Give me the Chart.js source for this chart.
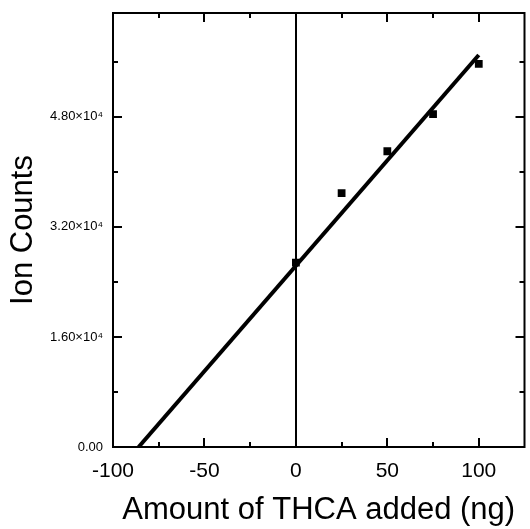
<!DOCTYPE html>
<html>
<head>
<meta charset="utf-8">
<script src="https://cdn.jsdelivr.net/npm/chart.js@4.4.1/dist/chart.umd.min.js"></script>
<style>
  html, body { margin: 0; padding: 0; background: #fff; }
  #wrap { width: 530px; height: 529px; }
</style>
</head>
<body>
<div id="wrap"><canvas id="grafico"></canvas></div>
<script>
// dados
const amounts = [0, 25, 50, 75, 100];
const ionCounts = [26800, 36900, 43000, 48400, 55700];
const fitX = [-86, 100];
const fitY = [0, 57000];

const xTickValues = [-100, -50, 0, 50, 100];
const xTickLabels = ["-100", "-50", "0", "50", "100"];
const xMinorTicks = [-75, -25, 25, 75];
const yTickValues = [0, 16000, 32000, 48000];
const yTickLabels = ["0.00", "1.60×10⁴", "3.20×10⁴", "4.80×10⁴"];
const yMinorTicks = [8000, 24000, 40000, 56000];

// moldura + ticks para dentro nos 4 lados
const molduraPlugin = {
  id: "moldura",
  afterDraw(chart) {
    const { ctx, chartArea: a, scales } = chart;
    ctx.save();
    ctx.strokeStyle = "#000";
    ctx.lineWidth = 2;
    ctx.strokeRect(a.left, a.top, a.right - a.left, a.bottom - a.top);
    scales.x.ticks.forEach(t => {
      if (t.value <= scales.x.min || t.value >= scales.x.max) return;
      const len = xTickValues.includes(t.value) ? 9 : 5;
      const px = Math.round(scales.x.getPixelForValue(t.value));
      ctx.beginPath();
      ctx.moveTo(px, a.bottom); ctx.lineTo(px, a.bottom - len);
      ctx.moveTo(px, a.top); ctx.lineTo(px, a.top + len);
      ctx.stroke();
    });
    scales.y.ticks.forEach(t => {
      if (t.value <= scales.y.min || t.value >= scales.y.max) return;
      const len = yTickValues.includes(t.value) ? 9 : 5;
      const py = Math.round(scales.y.getPixelForValue(t.value));
      ctx.beginPath();
      ctx.moveTo(a.left, py); ctx.lineTo(a.left + len, py);
      ctx.moveTo(a.right, py); ctx.lineTo(a.right - len, py);
      ctx.stroke();
    });
    ctx.restore();
  }
};

const toTicks = (maj, min) => maj.concat(min).sort((p, q) => p - q).map(v => ({ value: v }));

const ctx = document.getElementById("grafico").getContext("2d");
new Chart(ctx, {
  type: "scatter",
  data: {
    datasets: [
      {
        label: "Ajuste",
        data: fitX.map((x, i) => ({ x, y: fitY[i] })),
        showLine: true,
        borderColor: "#000",
        borderWidth: 4,
        pointRadius: 0
      },
      {
        label: "Ion Counts",
        data: amounts.map((x, i) => ({ x, y: ionCounts[i] })),
        pointStyle: "rect",
        pointRadius: 5.5,
        backgroundColor: "#000",
        borderColor: "#000",
        borderWidth: 0
      }
    ]
  },
  options: {
    responsive: true,
    maintainAspectRatio: false,
    animation: false,
    layout: { padding: { top: 13, right: 2, left: 0, bottom: 0 } },
    plugins: { legend: { display: false }, tooltip: { enabled: false } },
    scales: {
      x: {
        type: "linear",
        min: -100,
        max: 125,
        afterBuildTicks: s => { s.ticks = toTicks(xTickValues, xMinorTicks); },
        afterFit: s => { s.height = 82; s.paddingLeft = 0; s.paddingRight = 0; },
        border: { display: false },
        grid: {
          drawTicks: false,
          lineWidth: 2,
          color: c => (c.tick && c.tick.value === 0 ? "#000" : "rgba(0,0,0,0)")
        },
        ticks: {
          autoSkip: false,
          maxRotation: 0,
          padding: 12,
          color: "#000",
          font: { family: "Liberation Sans", size: 21 },
          callback: v => {
            const i = xTickValues.indexOf(v);
            return i >= 0 ? xTickLabels[i] : "";
          }
        },
        title: {
          display: true,
          text: "Amount of THCA added (ng)",
          color: "#000",
          font: { family: "Liberation Sans", size: 31 },
          padding: { top: 0, bottom: 0 }
        }
      },
      y: {
        min: 0,
        max: 63100,
        afterBuildTicks: s => { s.ticks = toTicks(yTickValues, yMinorTicks); },
        afterFit: s => { s.width = 113; s.paddingTop = 0; s.paddingBottom = 0; },
        border: { display: false },
        grid: { display: false, drawTicks: false },
        ticks: {
          autoSkip: false,
          padding: 10,
          color: "#000",
          font: { family: "Liberation Sans", size: 13 },
          callback: v => {
            const i = yTickValues.indexOf(v);
            return i >= 0 ? yTickLabels[i] : "";
          }
        },
        title: {
          display: true,
          text: "Ion Counts",
          color: "#000",
          font: { family: "Liberation Sans", size: 31 },
          padding: { top: 5, bottom: 0 }
        }
      }
    }
  },
  plugins: [molduraPlugin]
});
</script>
</body>
</html>
